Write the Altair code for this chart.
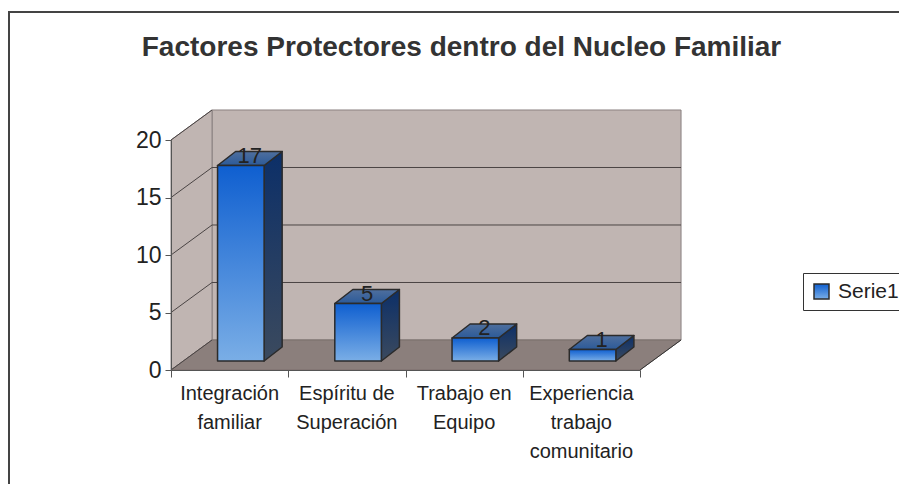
import altair as alt
import pandas as pd

# ---------------- data ----------------
categories = ["Integración\nfamiliar", "Espíritu de\nSuperación", "Trabajo en\nEquipo",
              "Experiencia\ntrabajo\ncomunitario"]
values = [17, 5, 2, 1]
series_name = "Serie1"
y_ticks = [0, 5, 10, 15, 20]
y_max = 20
title_text = "Factores Protectores dentro del Nucleo Familiar"

# ---------------- 3D layout constants (in scale units) ----------------
N = len(categories)
WALL_DX, WALL_DY = 0.35, 2.61      # depth of the walls / floor
BAR_LEFT, BAR_W = 0.397, 0.397     # bar front face within a category slot
BAR_BASE = 0.78                    # bar base lifted (bars sit mid-depth)
BAR_DX, BAR_DY = 0.154, 1.22       # bar depth

FONT = "Liberation Sans"

xs = alt.Scale(domain=[0, N], nice=False, zero=False)
ys = alt.Scale(domain=[0, y_max], nice=False, zero=False)
x_axis = alt.Axis(values=list(range(N + 1)), labels=False, title=None, grid=False,
                  tickSize=7, tickColor="#555", domainColor="#555", zindex=1)
y_axis = alt.Axis(values=y_ticks, title=None, grid=False, tickSize=6, tickColor="#555",
                  domainColor="#555", labelFontSize=23, labelFont=FONT, labelColor="#222",
                  labelPadding=4, zindex=1)


def X(f):
    return alt.X(f, type="quantitative", scale=xs, axis=x_axis)


def Y(f):
    return alt.Y(f, type="quantitative", scale=ys, axis=y_axis)


# ---------------- tables built from the arrays ----------------
back_wall = pd.DataFrame({"x": [WALL_DX], "x2": [N + WALL_DX],
                          "y": [WALL_DY], "y2": [y_max + WALL_DY]})
left_wall = pd.DataFrame({"x": [0, WALL_DX], "y": [0, WALL_DY],
                          "y2": [y_max, y_max + WALL_DY]})
floor = pd.DataFrame({"y": [0, WALL_DY], "x": [0, WALL_DX], "x2": [N, N + WALL_DX]})
grid_back = pd.DataFrame({"y": [v + WALL_DY for v in y_ticks[1:-1]],
                          "x": WALL_DX, "x2": N + WALL_DX})
grid_left = pd.DataFrame({"x": 0.0, "x2": WALL_DX, "y": y_ticks,
                          "y2": [v + WALL_DY for v in y_ticks]})
floor_edge = pd.DataFrame({"x": [N], "x2": [N + WALL_DX], "y": [0], "y2": [WALL_DY]})

bars = pd.DataFrame({"i": range(N), "value": values, "series": series_name})
bars["L"] = bars["i"] + BAR_LEFT
bars["R"] = bars["L"] + BAR_W
bars["base"] = BAR_BASE
bars["top"] = bars["value"] + BAR_BASE

side_rows, top_rows = [], []
for _, b in bars.iterrows():
    side_rows.append({"bar": b.i, "x": b.R, "y": b.top, "y2": b.base})
    side_rows.append({"bar": b.i, "x": b.R + BAR_DX, "y": b.top + BAR_DY, "y2": b.base + BAR_DY})
    top_rows.append({"bar": b.i, "y": b.top, "x": b.L, "x2": b.R})
    top_rows.append({"bar": b.i, "y": b.top + BAR_DY, "x": b.L + BAR_DX, "x2": b.R + BAR_DX})
side = pd.DataFrame(side_rows)
topf = pd.DataFrame(top_rows)

labels = pd.DataFrame({"x": bars["L"] + (BAR_W + BAR_DX) / 2,
                       "y": bars["top"] + BAR_DY / 2,
                       "text": [str(v) for v in values]})
cat_labels = pd.DataFrame({"x": [i + 0.5 for i in range(N)], "y": 0.0, "text": categories})


def grad(c0, c1):
    return alt.Gradient(gradient="linear", x1=0, y1=0, x2=0, y2=1,
                        stops=[alt.GradientStop(color=c0, offset=0),
                               alt.GradientStop(color=c1, offset=1)])


WALL = "#c0b5b2"
FLOOR = "#8b7f7c"
EDGE = "#2b2b2b"

frame = alt.Chart(pd.DataFrame({"a": [0]})).mark_rect(
    fill="transparent", stroke="#444", strokeWidth=2).encode(
    x=alt.value(-162), x2=alt.value(900), y=alt.value(-128), y2=alt.value(600))

l_back = alt.Chart(back_wall).mark_rect(fill=WALL, stroke="#8a8080", strokeWidth=1).encode(
    x=X("x"), x2="x2", y=Y("y"), y2="y2")
l_left = alt.Chart(left_wall).mark_area(fill=WALL, stroke="#8a8080", strokeWidth=1).encode(
    x=X("x"), y=Y("y"), y2="y2")
l_floor = alt.Chart(floor).mark_area(orient="horizontal", fill=FLOOR, stroke="#7a6f6c",
                                     strokeWidth=1).encode(
    y=Y("y"), x=X("x"), x2="x2")
l_grid_back = alt.Chart(grid_back).mark_rule(color="#4a4444", strokeWidth=1).encode(
    x=X("x"), x2="x2", y=Y("y"))
l_grid_left = alt.Chart(grid_left).mark_rule(color="#4a4444", strokeWidth=1).encode(
    x=X("x"), x2="x2", y=Y("y"), y2="y2")
l_floor_edge = alt.Chart(floor_edge).mark_rule(color="#333", strokeWidth=1).encode(
    x=X("x"), x2="x2", y=Y("y"), y2="y2")

l_side = alt.Chart(side).mark_area(fill=grad("#0c2f68", "#3b4a5e"), stroke=EDGE,
                                   strokeWidth=1.5, strokeJoin="round").encode(
    x=X("x"), y=Y("y"), y2="y2", detail="bar:N")
l_top = alt.Chart(topf).mark_area(orient="horizontal",
                                  fill=alt.Gradient(gradient="linear", x1=0, y1=1, x2=0, y2=0,
                                                    stops=[alt.GradientStop(color="#2c5a98", offset=0),
                                                           alt.GradientStop(color="#4f6f9e", offset=1)]),
                                  stroke=EDGE, strokeWidth=1.5, strokeJoin="round").encode(
    y=Y("y"), x=X("x"), x2="x2", detail="bar:N")
l_front = alt.Chart(bars).mark_rect(fill=grad("#0f5fd0", "#7aaee6"), strokeWidth=1.5,
                                    strokeJoin="round").encode(
    x=X("L"), x2="R", y=Y("base"), y2="top",
    stroke=alt.Stroke("series:N", scale=alt.Scale(range=[EDGE]),
                      legend=alt.Legend(title=None, orient="none", legendX=632, legendY=133,
                                        symbolType="square", symbolSize=225,
                                        symbolFillColor="#4f86d8", symbolStrokeColor=EDGE,
                                        symbolStrokeWidth=1.5, labelFontSize=21,
                                        labelFont=FONT, labelColor="#222",
                                        strokeColor="#333", padding=8, fillColor="white",
                                        labelOffset=6)))
l_vals = alt.Chart(labels).mark_text(font=FONT, fontSize=22, color="#222",
                                     baseline="alphabetic", dy=4).encode(
    x=X("x"), y=Y("y"), text="text:N")
l_cats = alt.Chart(cat_labels).mark_text(font=FONT, fontSize=20, color="#222",
                                         baseline="top", dy=14, lineBreak="\n",
                                         lineHeight=29).encode(
    x=X("x"), y=Y("y"), text="text:N")

chart = alt.layer(
    frame, l_back, l_left, l_floor, l_grid_back, l_grid_left, l_floor_edge,
    l_side, l_top, l_front, l_vals, l_cats
).properties(
    width=469, height=230,
    autosize=alt.AutoSizeParams(type="none"),
    padding={"left": 163, "top": 132, "right": 259, "bottom": 114},
    title=alt.TitleParams(title_text, fontSize=28, font=FONT, fontWeight="bold",
                          color="#333", anchor="middle", frame="group", dx=56,
                          baseline="alphabetic", offset=-73),
    background="white",
).configure_view(stroke=None)

chart.save("out.html", embed_options={"renderer": "svg", "actions": False})
